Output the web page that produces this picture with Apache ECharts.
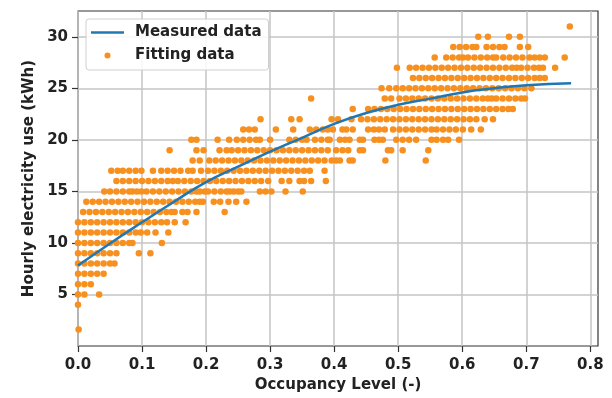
<!DOCTYPE html>
<html>
<head>
<meta charset="utf-8">
<script src="https://cdn.jsdelivr.net/npm/echarts@6/dist/echarts.min.js"></script>
<style>
  html, body { margin: 0; padding: 0; background: #fff; }
  #chart { width: 612px; height: 398px; }
</style>
</head>
<body>
<div id="chart"></div>
<script>
// fitted curve
const fitX = [0, 0.05, 0.1, 0.15, 0.2, 0.25, 0.3, 0.35, 0.4, 0.45, 0.5, 0.55, 0.6, 0.65, 0.7, 0.77]
const fitY = [7.8, 9.95, 12.0, 14.0, 15.9, 17.4, 18.85, 20.2, 21.55, 22.6, 23.4, 24.0, 24.6, 25.0, 25.3, 25.5]

// scatter points: one row of occupancy values per hourly kWh level
const rowLevels = [1.6, 4, 5, 6, 7, 8, 9, 10, 11, 12, 13, 14, 15, 16, 17, 18, 19, 20, 21, 22, 23, 24, 25, 26, 27, 28, 29, 30, 31]
const rowX = [
  [0.001],
  [0.0],
  [0.0, 0.01, 0.033],
  [0.0, 0.01, 0.02],
  [0.0, 0.01, 0.02, 0.03, 0.04],
  [0.0, 0.01, 0.02, 0.03, 0.04, 0.05, 0.057],
  [0.0, 0.01, 0.02, 0.03, 0.04, 0.05, 0.06, 0.095, 0.113],
  [0.0, 0.01, 0.02, 0.03, 0.04, 0.05, 0.06, 0.07, 0.08, 0.085, 0.131],
  [0.0, 0.01, 0.02, 0.03, 0.04, 0.05, 0.06, 0.07, 0.08, 0.09, 0.098, 0.108, 0.121, 0.141],
  [0.0, 0.01, 0.02, 0.03, 0.04, 0.05, 0.06, 0.07, 0.08, 0.09, 0.1, 0.11, 0.12, 0.13, 0.139, 0.151, 0.168],
  [0.008, 0.018, 0.028, 0.038, 0.048, 0.058, 0.068, 0.078, 0.088, 0.098, 0.108, 0.118, 0.128, 0.138, 0.146, 0.151, 0.163, 0.171, 0.185, 0.229],
  [0.013, 0.023, 0.033, 0.043, 0.053, 0.063, 0.073, 0.083, 0.093, 0.103, 0.113, 0.123, 0.133, 0.143, 0.153, 0.163, 0.173, 0.183, 0.19, 0.195, 0.212, 0.222, 0.235, 0.247, 0.263],
  [0.041, 0.05, 0.06, 0.07, 0.08, 0.085, 0.092, 0.099, 0.107, 0.117, 0.127, 0.137, 0.147, 0.157, 0.167, 0.177, 0.185, 0.19, 0.198, 0.203, 0.213, 0.223, 0.232, 0.237, 0.243, 0.25, 0.255, 0.284, 0.293, 0.302, 0.324, 0.351],
  [0.06, 0.07, 0.08, 0.09, 0.1, 0.11, 0.12, 0.13, 0.14, 0.148, 0.156, 0.166, 0.176, 0.186, 0.196, 0.206, 0.216, 0.226, 0.236, 0.246, 0.256, 0.266, 0.276, 0.286, 0.297, 0.318, 0.33, 0.346, 0.353, 0.364, 0.387],
  [0.052, 0.062, 0.07, 0.08, 0.09, 0.099, 0.117, 0.13, 0.14, 0.15, 0.16, 0.172, 0.179, 0.192, 0.203, 0.213, 0.223, 0.233, 0.243, 0.253, 0.263, 0.273, 0.283, 0.293, 0.303, 0.313, 0.323, 0.333, 0.343, 0.353, 0.362, 0.385],
  [0.179, 0.19, 0.205, 0.215, 0.225, 0.235, 0.245, 0.255, 0.265, 0.275, 0.285, 0.295, 0.305, 0.315, 0.325, 0.335, 0.345, 0.355, 0.365, 0.375, 0.385, 0.396, 0.403, 0.409, 0.424, 0.429, 0.48, 0.543],
  [0.143, 0.185, 0.196, 0.221, 0.232, 0.24, 0.25, 0.26, 0.27, 0.28, 0.29, 0.3, 0.31, 0.32, 0.33, 0.34, 0.35, 0.36, 0.37, 0.38, 0.39, 0.403, 0.413, 0.422, 0.44, 0.445, 0.484, 0.489, 0.507, 0.547],
  [0.177, 0.185, 0.218, 0.236, 0.248, 0.258, 0.268, 0.278, 0.284, 0.3, 0.33, 0.34, 0.35, 0.357, 0.37, 0.38, 0.39, 0.393, 0.409, 0.417, 0.424, 0.44, 0.445, 0.463, 0.47, 0.476, 0.497, 0.507, 0.517, 0.528, 0.552, 0.56, 0.57, 0.578, 0.595],
  [0.258, 0.267, 0.276, 0.309, 0.336, 0.362, 0.372, 0.382, 0.39, 0.398, 0.413, 0.419, 0.429, 0.453, 0.462, 0.47, 0.479, 0.492, 0.502, 0.512, 0.522, 0.532, 0.542, 0.552, 0.56, 0.57, 0.58, 0.59, 0.601, 0.614, 0.629],
  [0.285, 0.333, 0.346, 0.396, 0.406, 0.427, 0.442, 0.452, 0.462, 0.472, 0.482, 0.492, 0.502, 0.512, 0.522, 0.532, 0.542, 0.552, 0.562, 0.572, 0.582, 0.592, 0.602, 0.612, 0.622, 0.635, 0.648],
  [0.429, 0.453, 0.463, 0.473, 0.483, 0.493, 0.503, 0.513, 0.523, 0.533, 0.543, 0.553, 0.563, 0.573, 0.583, 0.593, 0.603, 0.613, 0.623, 0.633, 0.643, 0.653, 0.663, 0.672, 0.679],
  [0.364, 0.479, 0.489, 0.502, 0.512, 0.522, 0.532, 0.542, 0.552, 0.562, 0.572, 0.582, 0.592, 0.602, 0.612, 0.622, 0.632, 0.64, 0.646, 0.653, 0.663, 0.673, 0.683, 0.692, 0.698],
  [0.474, 0.486, 0.497, 0.507, 0.517, 0.527, 0.537, 0.547, 0.557, 0.567, 0.577, 0.587, 0.597, 0.607, 0.617, 0.627, 0.637, 0.647, 0.657, 0.667, 0.677, 0.687, 0.697, 0.708],
  [0.523, 0.533, 0.543, 0.553, 0.563, 0.573, 0.583, 0.593, 0.603, 0.613, 0.623, 0.633, 0.643, 0.653, 0.663, 0.673, 0.683, 0.693, 0.703, 0.713, 0.721, 0.729],
  [0.498, 0.518, 0.528, 0.538, 0.548, 0.558, 0.568, 0.578, 0.588, 0.598, 0.608, 0.618, 0.628, 0.638, 0.648, 0.658, 0.668, 0.678, 0.685, 0.692, 0.702, 0.712, 0.72, 0.726, 0.745],
  [0.557, 0.575, 0.585, 0.595, 0.601, 0.609, 0.619, 0.629, 0.639, 0.648, 0.653, 0.664, 0.674, 0.684, 0.694, 0.705, 0.713, 0.721, 0.729, 0.76],
  [0.586, 0.596, 0.606, 0.616, 0.622, 0.638, 0.648, 0.658, 0.666, 0.69, 0.703],
  [0.625, 0.64, 0.673, 0.69],
  [0.768]
]

const xTicks = [0, 0.1, 0.2, 0.3, 0.4, 0.5, 0.6, 0.7, 0.8]
const yTicks = [5, 10, 15, 20, 25, 30]

const font = 'DejaVu Sans'
const textColor = '#222'

const fitData = fitX.map((x, i) => [x, fitY[i]])
const scatterData = []
rowX.forEach((xs, i) => xs.forEach(x => scatterData.push([x, rowLevels[i]])))

const chart = echarts.init(document.getElementById('chart'), null, { renderer: 'canvas' })

chart.setOption({
  backgroundColor: '#fff',
  animation: false,
  grid: {
    left: 78, right: 14, top: 11, bottom: 49,
    show: true,
    borderColor: '#333',
    borderWidth: 1.2,
    backgroundColor: 'transparent'
  },
  legend: {
    show: true,
    orient: 'vertical',
    left: 86,
    top: 19,
    z: 10,
    padding: [6, 7, 7, 5],
    itemGap: 8,
    itemWidth: 33,
    itemHeight: 6,
    backgroundColor: 'rgba(255,255,255,0.85)',
    borderColor: '#d0d0d0',
    borderWidth: 1,
    borderRadius: 3,
    textStyle: {
      fontFamily: font, fontWeight: 'bold', fontSize: 15, color: textColor,
      lineHeight: 14, padding: [0, 0, 0, 6]
    },
    data: [
      { name: 'Measured data', icon: 'path://M0,0L33,0L33,2.5L0,2.5Z' },
      { name: 'Fitting data', icon: 'circle' }
    ]
  },
  xAxis: {
    type: 'value',
    min: 0,
    max: 0.812,
    interval: 0.1,
    name: 'Occupancy Level (-)',
    nameLocation: 'middle',
    nameGap: 32,
    nameTextStyle: { fontFamily: font, fontWeight: 'bold', fontSize: 15, color: textColor },
    axisLine: { show: false },
    axisTick: { show: true, length: 6, lineStyle: { color: '#333', width: 1.2 }, customValues: xTicks },
    axisLabel: {
      customValues: xTicks,
      margin: 12,
      fontFamily: font, fontWeight: 'bold', fontSize: 15, color: textColor,
      formatter: v => v.toFixed(1)
    },
    splitLine: { show: true, lineStyle: { color: '#c4c4c4', width: 1.5 } }
  },
  yAxis: {
    type: 'value',
    min: 0,
    max: 32.5,
    interval: 5,
    name: 'Hourly electricity use (kWh)',
    nameLocation: 'middle',
    nameGap: 40,
    nameTextStyle: { fontFamily: font, fontWeight: 'bold', fontSize: 15, color: textColor },
    axisLine: { show: false },
    axisTick: { show: true, length: 6, lineStyle: { color: '#333', width: 1.2 }, customValues: yTicks },
    axisLabel: {
      customValues: yTicks,
      margin: 10,
      fontFamily: font, fontWeight: 'bold', fontSize: 15, color: textColor
    },
    splitLine: { show: true, lineStyle: { color: '#c4c4c4', width: 1.5 } }
  },
  series: [
    {
      name: 'Measured data',
      type: 'line',
      data: fitData,
      smooth: true,
      symbol: 'none',
      z: 5,
      lineStyle: { color: '#1f77b4', width: 2.5 },
      itemStyle: { color: '#1f77b4' }
    },
    {
      name: 'Fitting data',
      type: 'scatter',
      data: scatterData,
      symbolSize: 6.5,
      z: 3,
      itemStyle: { color: '#f7901e', opacity: 1 }
    }
  ]
})
</script>
</body>
</html>
